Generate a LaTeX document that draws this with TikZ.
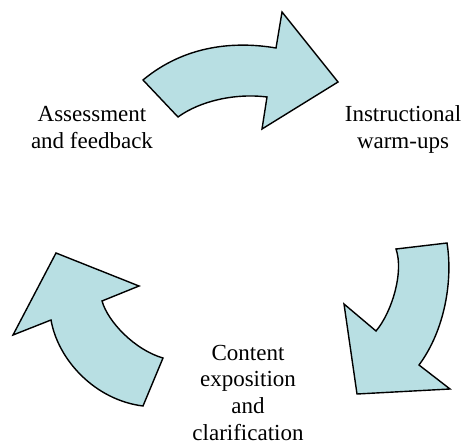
\documentclass[tikz,border=0pt]{standalone}
\usepackage{fontspec}
\setmainfont{Liberation Serif}
\definecolor{arrowfill}{RGB}{184,223,227}
\newcommand{\stacklines}[1]{\vtop{\halign{\hfil##\hfil\cr#1\crcr}}}
\begin{document}
\begin{tikzpicture}[x=1pt,y=-1pt,
  cyclearrow/.style={draw=black,fill=arrowfill,line width=1.4pt,line join=miter},
  lbl/.style={inner sep=0pt,anchor=base,font=\fontsize{23}{26.8}\selectfont\rmfamily}]
\useasboundingbox (0,0) rectangle (462,446);
% top arrow
\draw[cyclearrow] (143,80) -- (178,117) .. controls (200,101) and (235,93) .. (267,97)
  -- (262,129) -- (338,82) -- (282,12) -- (276,48)
  .. controls (235,41) and (185,45) .. cycle;
% right arrow
\draw[cyclearrow] (396,249) -- (447,243) .. controls (453,280) and (445,330) .. (419,365)
  -- (450,389) -- (357,394) -- (344,304) -- (376,331)
  .. controls (392,312) and (404,272) .. cycle;
% left arrow
\draw[cyclearrow] (143,406) -- (163,358) .. controls (135,350) and (108,322) .. (102,301)
  -- (139,286) -- (56,253) -- (13,335) -- (51,320)
  .. controls (58,360) and (95,400) .. cycle;
\node[lbl] (assess) at (92,121.7) {\stacklines{Assessment\cr and feedback}};
\node[lbl] (warm) at (403,121.7) {\stacklines{Instructional\cr warm-ups}};
\node[lbl] (content) at (248,360) {\stacklines{Content\cr exposition\cr and\cr clarification}};
\end{tikzpicture}
\end{document}
